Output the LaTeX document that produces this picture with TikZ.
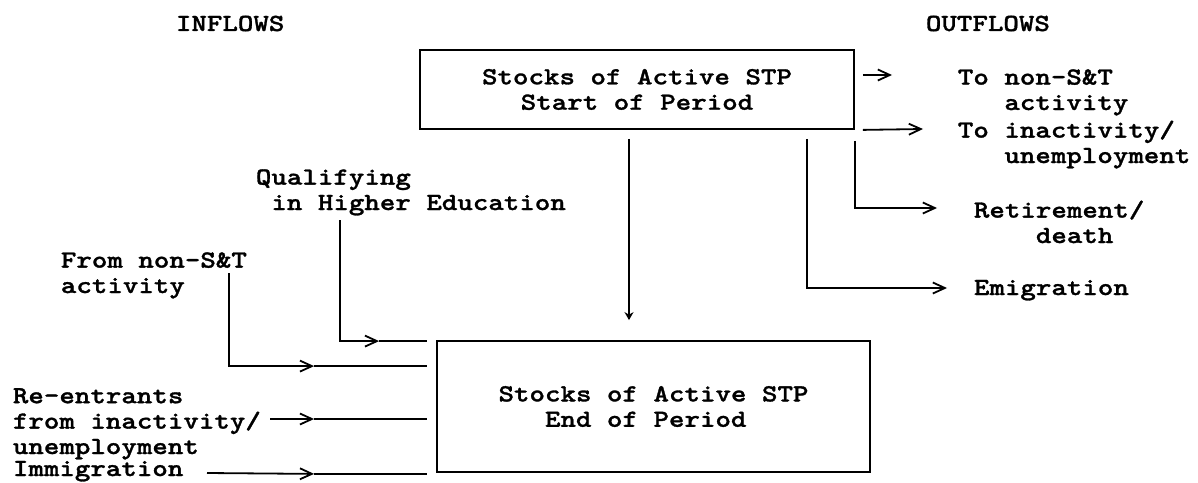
\documentclass[tikz,border=0pt]{standalone}
\usepackage{fontspec}
\setmainfont{lmmonolt10-bold.otf}[FakeStretch=1.2, FakeBold=1.2]
\usetikzlibrary{arrows.meta,calc}
\begin{document}
\begin{tikzpicture}[x=0.5pt,y=-0.5pt,
  font=\fontsize{12.3}{12.7}\selectfont,
  line width=0.9pt, line join=miter,
  stockbox/.style={draw, rectangle, inner sep=0pt, align=center},
  lbl/.style={inner sep=0pt, anchor=base west, align=left},
  flow/.style={-{Straight Barb[length=6pt,width=5.5pt]}},
  drop/.style={-{Stealth[length=4pt,width=4.5pt]}}]
\useasboundingbox (0,0) rectangle (1198,482);

% stock boxes
\node[stockbox, minimum width=217pt, minimum height=39.5pt] (start) at (637,89.5)
  {Stocks of Active STP\\Start of Period};
\node[stockbox, minimum width=216.5pt, minimum height=65.5pt, align=left] (end) at (653.5,406.5)
  {Stocks of Active STP\\\phantom{xxx}End of Period};

% headings
\node[lbl] (inhead) at (175,31) {INFLOWS};
\node[lbl] (outhead) at (925,31) {OUTFLOWS};

% outflow labels (placed by the baseline of their last line)
\node[lbl] (tonon) at (957,110) {To non-S\&T\\\phantom{xxx}activity};
\node[lbl] (toinact) at (957,163) {To inactivity/\\\phantom{xxx}unemployment};
\node[lbl] (retire) at (973,243) {Retirement/\\\phantom{xxxx}death};
\node[lbl] (emig) at (973,295) {Emigration};

% inflow labels
\node[lbl] (qual) at (255,210) {Qualifying\\\phantom{x}in Higher Education};
\node[lbl] (fromnon) at (60,293) {From non-S\&T\\activity};
\node[lbl] (reent) at (12,454) {Re-entrants\\from inactivity/\\unemployment};
\node[lbl] (immig) at (12,476) {Immigration};

% stock carried over
\coordinate (d0) at ($(start.south)+(-8,9)$);
\coordinate (d1) at ($(end.north)+(0,-20)$);
\draw[drop] (d0) -- (d0 |- d1);

% outflows
\draw[flow] ($(start.east)+(8,-14.5)$) -- ($(tonon.base west)+(-65,-35)$);
\draw[flow] ($(start.south east)+(8,0)$) -- ($(toinact.base west)+(-34,-34)$);
\draw[flow] ($(start.south east)+(0,11)$) |- ($(retire.base west)+(-36,-35)$);
\draw[flow] ($(start.south east)+(-48,9)$) |- ($(emig.base west)+(-26,-7)$);

% inflows
\coordinate (q0) at ($(qual.base west)+(85,10)$);
\coordinate (q1) at ($(end.north west)+(-57,1)$);
\coordinate (q2) at ($(end.north west)+(-9,1)$);
\draw[flow] (q0) |- (q1);
\draw (q1) -- (q2);

\coordinate (f0) at ($(fromnon.base west)+(169,-20)$);
\coordinate (f1) at ($(end.north west)+(-122,26)$);
\coordinate (f2) at ($(end.north west)+(-9,26)$);
\draw[flow] (f0) |- (f1);
\draw (f1) -- (f2);

\coordinate (r0) at ($(reent.base west)+(258,-35)$);
\coordinate (r1) at ($(end.north west)+(-122,78)$);
\coordinate (r2) at ($(end.north west)+(-9,78)$);
\draw[flow] (r0) -- (r0 -| r1);
\draw (r0 -| r1) -- (r0 -| r2);

\coordinate (m0) at ($(immig.base west)+(195,-3)$);
\coordinate (m1) at ($(end.south west)+(-122,1)$);
\coordinate (m2) at ($(end.south west)+(-9,1)$);
\draw[flow] (m0) -- (m1);
\draw (m1) -- (m2);
\end{tikzpicture}
\end{document}
